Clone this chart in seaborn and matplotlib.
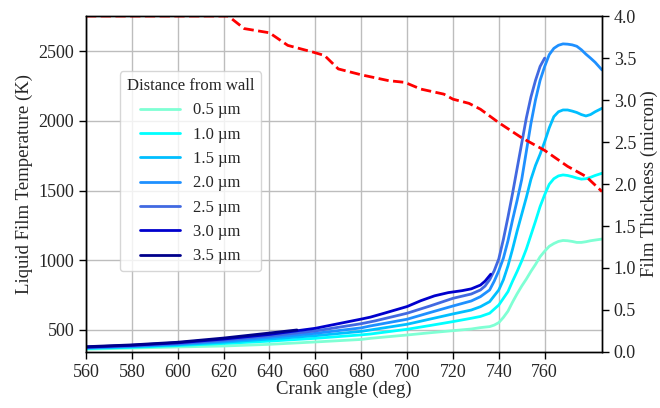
import matplotlib
matplotlib.use("Agg")
import matplotlib.pyplot as plt
import seaborn as sns
import pandas as pd

# ---------------- data ----------------
labels = ["0.5 µm", "1.0 µm", "1.5 µm", "2.0 µm", "2.5 µm", "3.0 µm", "3.5 µm"]
colors = ["aquamarine", "cyan", "deepskyblue", "dodgerblue", "royalblue", "mediumblue", "darkblue"]

crank_05 = [560, 580, 600, 620, 640, 660, 680, 684, 700, 710, 720, 728, 732, 736, 738, 740, 742, 744, 746, 748,
            750, 752, 754, 756, 758, 760, 762, 764, 766, 768, 770, 772, 774, 776, 778, 780, 782, 785]
temp_05 = [362, 370, 378, 385, 397, 414, 432, 440, 464, 480, 495, 507, 517, 524, 535, 553, 590, 635, 700, 760,
           815, 865, 920, 970, 1025, 1065, 1100, 1120, 1135, 1142, 1140, 1135, 1128, 1128, 1133, 1140, 1145, 1152]

crank_10 = [560, 580, 600, 620, 640, 660, 680, 684, 700, 710, 720, 728, 732, 736, 740, 744, 746, 748, 750, 752,
            754, 756, 758, 760, 762, 764, 766, 768, 770, 772, 774, 776, 778, 780, 782, 785]
temp_10 = [367, 376, 388, 403, 420, 440, 465, 471, 505, 532, 560, 584, 597, 620, 679, 775, 850, 920, 995, 1080,
           1180, 1280, 1385, 1470, 1545, 1585, 1605, 1612, 1608, 1600, 1590, 1582, 1585, 1595, 1608, 1624]

crank_15 = [560, 580, 600, 620, 640, 660, 680, 684, 700, 710, 720, 728, 732, 736, 740, 742, 744, 746, 748, 750,
            752, 754, 756, 758, 760, 762, 764, 766, 768, 770, 772, 774, 776, 778, 780, 782, 785]
temp_15 = [370, 380, 394, 412, 435, 459, 490, 500, 541, 578, 615, 643, 667, 703, 787, 860, 960, 1080, 1210, 1330,
           1450, 1580, 1680, 1760, 1850, 1950, 2030, 2065, 2078, 2078, 2070, 2060, 2045, 2035, 2045, 2065, 2090]

crank_20 = [560, 580, 600, 620, 640, 660, 680, 684, 700, 710, 720, 728, 732, 736, 738, 740, 742, 744, 746, 748,
            750, 752, 754, 756, 758, 760, 762, 764, 766, 768, 770, 772, 774, 776, 778, 780, 782, 785]
temp_20 = [373, 384, 399, 420, 447, 476, 515, 529, 577, 625, 672, 708, 739, 787, 850, 925, 1015, 1140, 1290, 1430,
           1580, 1780, 1980, 2150, 2290, 2390, 2475, 2520, 2542, 2552, 2550, 2545, 2535, 2510, 2478, 2450, 2420, 2365]

crank_25 = [560, 580, 600, 620, 640, 660, 680, 686, 700, 710, 720, 728, 732, 734, 736, 738, 740, 742, 744, 746,
            748, 750, 752, 754, 756, 758, 760]
temp_25 = [375, 387, 404, 428, 458, 493, 545, 565, 620, 672, 727, 758, 787, 815, 860, 925, 1010, 1150, 1310, 1480,
           1660, 1840, 2020, 2170, 2290, 2390, 2450]

crank_30 = [560, 580, 600, 620, 640, 660, 680, 684, 690, 700, 706, 712, 718, 724, 728, 732, 734, 736.5]
temp_30 = [377, 390, 408, 435, 468, 512, 578, 592, 620, 668, 710, 745, 768, 782, 795, 822, 850, 900]

crank_35 = [560, 580, 600, 620, 640, 652]
temp_35 = [380, 393, 412, 442, 478, 500]

crank_film = [560, 622, 629, 640, 648, 659, 664, 670, 680, 692, 699, 706, 716, 720, 727, 732, 740, 750, 760,
              770, 778, 785]
film_thickness = [4.0, 4.0, 3.85, 3.80, 3.65, 3.57, 3.53, 3.37, 3.30, 3.23, 3.21, 3.13, 3.07, 3.01, 2.96, 2.89,
                  2.73, 2.55, 2.40, 2.21, 2.09, 1.91]

x_ticks = [560, 580, 600, 620, 640, 660, 680, 700, 720, 740, 760]
y_ticks = [500, 1000, 1500, 2000, 2500]
y2_ticks = [0.0, 0.5, 1.0, 1.5, 2.0, 2.5, 3.0, 3.5, 4.0]

# ---------------- build long table ----------------
series = [(crank_05, temp_05), (crank_10, temp_10), (crank_15, temp_15), (crank_20, temp_20),
          (crank_25, temp_25), (crank_30, temp_30), (crank_35, temp_35)]
frames = []
for lab, (cx, ty) in zip(labels, series):
    frames.append(pd.DataFrame({"crank": cx, "temp": ty, "dist": lab}))
df = pd.concat(frames, ignore_index=True)
df_film = pd.DataFrame({"crank": crank_film, "thick": film_thickness})

# ---------------- style ----------------
sns.set_style("ticks")
plt.rcParams["font.family"] = ["Liberation Serif", "DejaVu Serif"]
plt.rcParams["mathtext.fontset"] = "stix"

fig = plt.figure(figsize=(6.6, 4.08), dpi=100)
ax = fig.add_axes([86 / 660, 1 - 352 / 408, (602 - 86) / 660, (352 - 16) / 408])

sns.lineplot(data=df, x="crank", y="temp", hue="dist", hue_order=labels,
             palette=dict(zip(labels, colors)), linewidth=2, sort=False,
             estimator=None, ax=ax)

ax.set_xlim(560, 785)
ax.set_ylim(342, 2752)
ax.set_xticks(x_ticks)
ax.set_yticks(y_ticks)
ax.grid(True, color="#bdbdbd", linewidth=1)
ax.set_axisbelow(True)
ax.set_xlabel("Crank angle (deg)", fontsize=13.5, labelpad=0)
ax.set_ylabel("Liquid Film Temperature (K)", fontsize=13.5, labelpad=4)
ax.tick_params(labelsize=13, direction="out", length=5, width=1, color="black")
for s in ax.spines.values():
    s.set_color("black")
    s.set_linewidth(1)

leg = ax.legend(title="Distance from wall", loc="upper left",
                bbox_to_anchor=(0.066, 0.835), borderaxespad=0,
                fontsize=12, title_fontsize=12, handlelength=2.4,
                labelspacing=0.5, handletextpad=0.8, frameon=True)
leg.get_frame().set_edgecolor("#cccccc")

ax2 = ax.twinx()
sns.lineplot(data=df_film, x="crank", y="thick", color="red", linestyle="--",
             linewidth=2, ax=ax2, sort=False, estimator=None)
ax2.set_ylim(0, 4.0)
ax2.set_yticks(y2_ticks)
ax2.set_yticklabels([f"{v:.1f}" for v in y2_ticks])
ax2.set_ylabel("Film Thickness (micron)", fontsize=13.5, labelpad=3)
ax2.tick_params(labelsize=13, direction="out", length=5, width=1, color="black")
ax2.grid(False)
for s in ax2.spines.values():
    s.set_color("black")
    s.set_linewidth(1)

fig.savefig("out.png", dpi=100)
